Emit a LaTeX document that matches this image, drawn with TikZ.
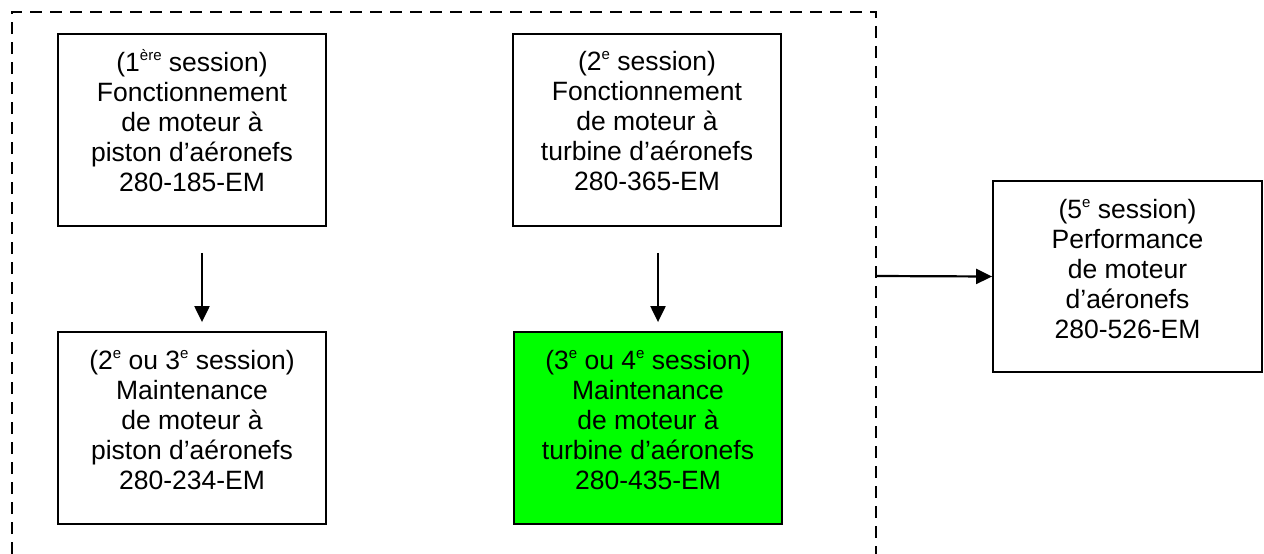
\documentclass[tikz,border=0pt]{standalone}
\usepackage{fontspec}
\setmainfont{Liberation Sans}
\usetikzlibrary{arrows.meta}
\newcommand{\sx}[1]{\raisebox{0.42em}{\fontsize{15}{15}\selectfont #1}}
\begin{document}
\begin{tikzpicture}[x=1pt,y=-1pt,
  box/.style={draw=black,line width=1.8pt,minimum width=268pt,minimum height=192pt,inner sep=0pt},
  txt/.style={align=center,inner sep=0pt,font=\fontsize{26.5}{30}\selectfont},
  arr/.style={line width=2.2pt,-{Triangle[length=16pt,width=15pt]}},
  frame/.style={line width=2.4pt,dash pattern=on 12pt off 8pt}]
\useasboundingbox (0,0) rectangle (1264,554);
\draw[frame] (12,554) -- (12,12) -- (876,12) -- (876,554);
\node[box] (b1) at (192,130) {};
\node[txt] (t1) at (192,121) {(1\sx{ère} session)\\Fonctionnement\\de moteur à\\piston d’aéronefs\\280-185-EM};
\node[box] (b2) at (647,130) {};
\node[txt] (t2) at (647,121) {(2\sx{e} session)\\Fonctionnement\\de moteur à\\turbine d’aéronefs\\280-365-EM};
\node[box] (b3) at (192,428) {};
\node[txt] (t3) at (192,420) {(2\sx{e} ou 3\sx{e} session)\\Maintenance\\de moteur à\\piston d’aéronefs\\280-234-EM};
\node[box,fill={rgb,255:red,0;green,255;blue,0}] (b4) at (648,428) {};
\node[txt] (t4) at (648,420) {(3\sx{e} ou 4\sx{e} session)\\Maintenance\\de moteur à\\turbine d’aéronefs\\280-435-EM};
\node[box,minimum width=269pt,minimum height=191pt] (b5) at (1127.5,276.5) {};
\node[txt] (t5) at (1127.5,269) {(5\sx{e} session)\\Performance\\de moteur\\d’aéronefs\\280-526-EM};
\coordinate (d5) at (876,276);
\draw[arr,shorten <=26pt,shorten >=9pt] ([xshift=10pt]b1.south) -- ([xshift=10pt]b3.north);
\draw[arr,shorten <=26pt,shorten >=9pt] ([xshift=11pt]b2.south) -- ([xshift=10pt]b4.north);
\draw[arr] (d5) -- (b5.west);
\end{tikzpicture}
\end{document}
